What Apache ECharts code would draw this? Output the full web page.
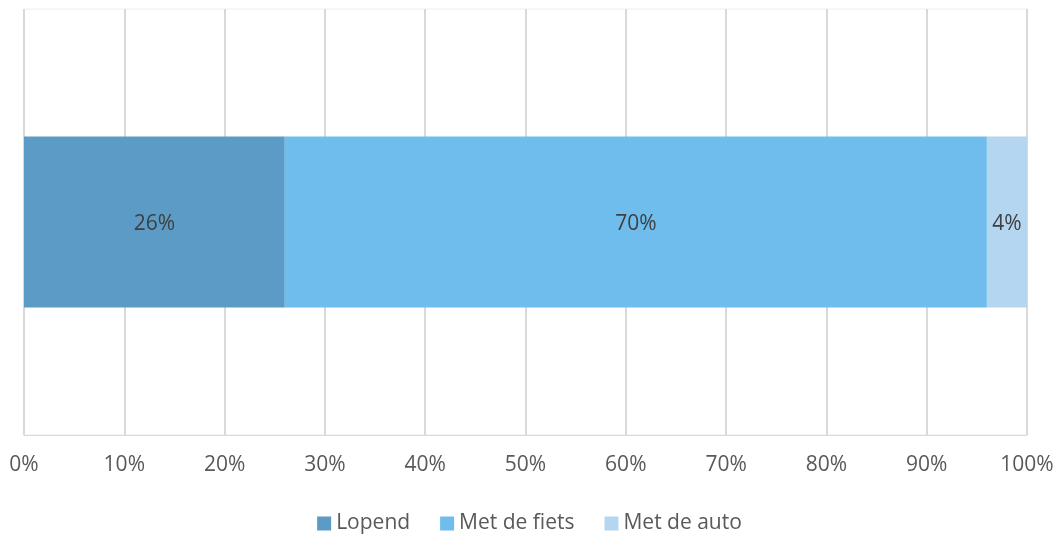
<!DOCTYPE html>
<html>
<head>
<meta charset="utf-8">
<script src="https://cdn.jsdelivr.net/npm/echarts@6/dist/echarts.min.js"></script>
<style>
  html, body { margin: 0; padding: 0; background: #fff; }
  #chart { width: 1059px; height: 534px; }
</style>
</head>
<body>
<div id="chart"></div>
<script>
// wijze van vervoer
var categories = [''];
var seriesNames = ['Lopend', 'Met de fiets', 'Met de auto'];
var lopend = [26];
var fiets = [70];
var auto = [4];
var colors = ['#5b9bc5', '#6ebded', '#b4d6f0'];

var chart = echarts.init(document.getElementById('chart'));
var font = '"Open Sans", "Noto Sans", sans-serif';

function makeSeries(name, data, color) {
    return {
        name: name,
        type: 'bar',
        stack: 'totaal',
        barWidth: 171,
        data: data,
        itemStyle: { color: color },
        label: {
            show: true,
            position: 'inside',
            formatter: '{c}%',
            color: '#404040',
            fontSize: 21,
            fontFamily: font,
            offset: [0, 2]
        }
    };
}

chart.setOption({
    animation: false,
    grid: {
        left: 24, right: 32, top: 9, bottom: 99,
        show: true, borderColor: '#ececec', borderWidth: 1
    },
    legend: {
        data: seriesNames,
        bottom: -5,
        left: 'center',
        itemWidth: 14,
        itemHeight: 14,
        itemGap: 30,
        icon: 'rect',
        textStyle: { color: '#595959', fontSize: 21, fontFamily: font }
    },
    xAxis: {
        type: 'value',
        min: 0, max: 100, interval: 10,
        axisLabel: { formatter: '{value}%', color: '#595959', fontSize: 21, fontFamily: font, margin: 20 },
        axisLine: { show: true, lineStyle: { color: '#d9d9d9', width: 1 } },
        axisTick: { show: false },
        splitLine: { show: true, lineStyle: { color: '#d9d9d9', width: 2 } }
    },
    yAxis: {
        type: 'category',
        data: categories,
        axisLine: { show: false },
        axisTick: { show: false },
        axisLabel: { show: false }
    },
    series: [
        makeSeries(seriesNames[0], lopend, colors[0]),
        makeSeries(seriesNames[1], fiets, colors[1]),
        makeSeries(seriesNames[2], auto, colors[2])
    ]
});
</script>
</body>
</html>
